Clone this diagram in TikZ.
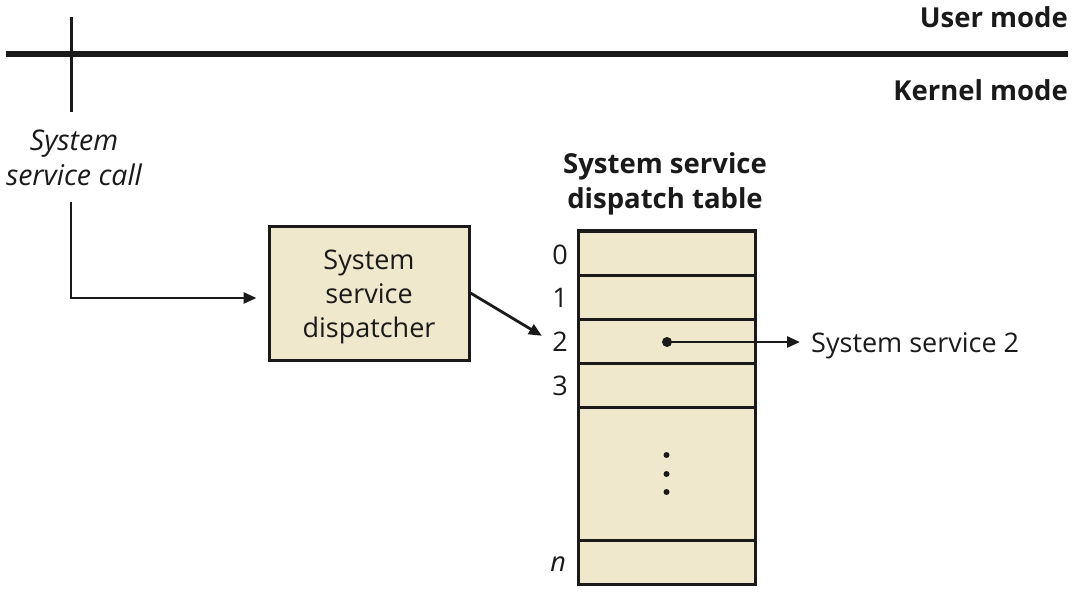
\documentclass[tikz,border=0pt]{standalone}
\usepackage{fontspec}
\setmainfont{Open Sans}
\usetikzlibrary{arrows.meta}
\definecolor{beige}{RGB}{239,232,204}
\definecolor{ink}{RGB}{26,26,26}
\tikzset{
  txt/.style={inner sep=0pt, font=\fontsize{27}{34}\selectfont, text=ink},
  bold/.style={txt, font=\fontsize{27.5}{35}\selectfont\bfseries},
  cell/.style={draw=ink, line width=3pt, fill=beige, minimum width=177pt, inner sep=0pt},
  conn/.style={draw=ink, line width=2.8pt, -{Triangle[length=13pt,width=11pt]}},
  plain/.style={draw=ink, line width=3pt},
}
\begin{document}
\begin{tikzpicture}[x=1pt,y=-1pt]
\useasboundingbox (0,0) rectangle (1084,596);
% mode boundary
\coordinate (bl) at (6,54);
\coordinate (br) at (1068,54);
\draw[ink, line width=6.5pt] (bl) -- (br);
\coordinate (vt) at (71,17);
\coordinate (vb) at (71,112);
\draw[plain] (vt) -- (vb);
\node[bold, anchor=base east] (um) at (1068,28) {User mode};
\node[bold, anchor=base east] (km) at (1068,101) {Kernel mode};
% system service call
\node[txt, align=center, font=\fontsize{28.5}{35}\selectfont\itshape] (ssc) at (74,158) {System\\service call};
\coordinate (ct) at (71,202);
\coordinate (cc) at (71,298);
% dispatcher box
\node[cell, minimum width=200pt, minimum height=133pt, line width=3pt] (disp) at (369,293.5) {};
\node[txt, align=center] (dtext) at (369,297) {System\\service\\dispatcher};
\draw[conn, shorten >=11pt] (ct) -- (cc) -- (disp.west |- cc);
% table
\node[bold, align=center] (thead) at (665,184) {System service\\dispatch table};
\node[cell, minimum height=44pt] (r0) at (666.5,253) {};
\node[cell, minimum height=44pt] (r1) at (666.5,297) {};
\node[cell, minimum height=44pt] (r2) at (666.5,341) {};
\node[cell, minimum height=44pt] (r3) at (666.5,385) {};
\node[cell, minimum height=133pt] (rd) at (666.5,473.5) {};
\node[cell, minimum height=44pt] (rn) at (666.5,562) {};
\node[txt, anchor=east] (l0) at (568,255) {0};
\node[txt, anchor=east] (l1) at (568,298) {1};
\node[txt, anchor=east] (l2) at (568,342) {2};
\node[txt, anchor=east] (l3) at (568,386) {3};
\node[txt, anchor=east, font=\fontsize{27}{34}\selectfont\itshape] (ln) at (566,564) {n};
% dots
\foreach \yy [count=\i] in {455,474,492} {
  \fill[ink] (666.5,\yy) circle (3pt);
}
% dispatcher to entry 2
\draw[conn, shorten >=12pt] (disp.east |- 0,293) -- (l2.west);
% entry 2 to system service 2
\coordinate (dot) at (667,342);
\fill[ink] (dot) circle (5pt);
\node[txt, anchor=base west] (s2) at (811,352) {System service 2};
\draw[conn, shorten >=11pt] (dot) -- (s2.west |- dot);
\end{tikzpicture}
\end{document}
